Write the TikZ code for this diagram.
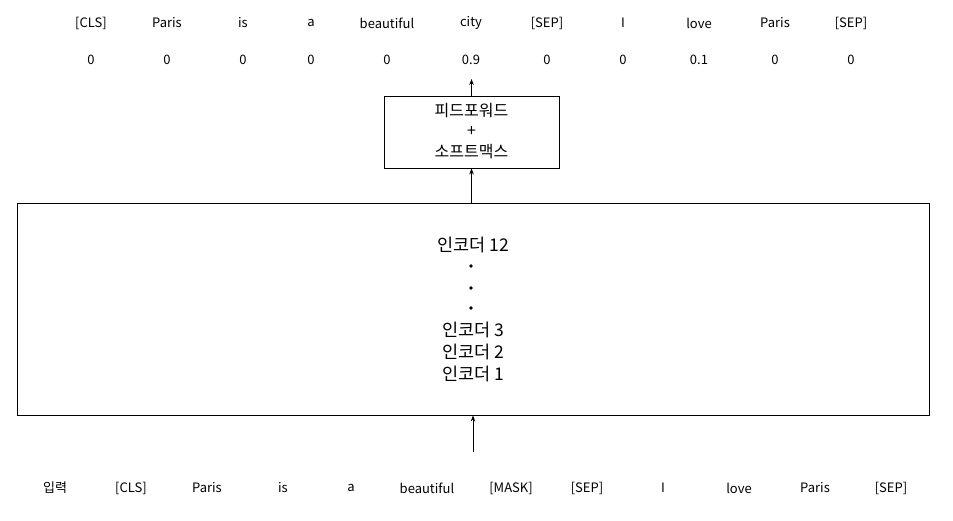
\documentclass[tikz,border=0pt]{standalone}
\usepackage{fontspec}
\setmainfont{Noto Sans CJK KR}
\usetikzlibrary{arrows.meta}
\begin{document}
\begin{tikzpicture}[x=1pt,y=-1pt,
  lbl/.style={inner sep=0pt,anchor=center,font=\fontsize{13}{15}\selectfont},
  enc/.style={inner sep=0pt,anchor=center,font=\fontsize{17.5}{20}\selectfont},
  ff/.style={inner sep=0pt,anchor=center,font=\fontsize{16}{18}\selectfont},
  dotn/.style={circle,fill=black,inner sep=0pt,minimum size=3.6pt},
  boxn/.style={draw=black,line width=0.9pt,inner sep=0pt},
  arr/.style={line width=0.8pt,-{Stealth[length=6pt,width=4.5pt]}}]
\useasboundingbox (0,0) rectangle (953,521);
% top tokens
\foreach \n/\x/\t in {t1/91/[CLS],t2/167/Paris,t3/243/is,t4/311/a,t5/387/beautiful,t6/471/city,t7/547/[SEP],t8/623/I,t9/699/love,t10/775/Paris,t11/851/[SEP]}
  \node[lbl] (\n) at (\x,23) {\t};
\foreach \n/\x/\t in {p1/91/0,p2/167/0,p3/243/0,p4/311/0,p5/387/0,p6/471/0.9,p7/547/0,p8/623/0,p9/699/0.1,p10/775/0,p11/851/0}
  \node[lbl] (\n) at (\x,60) {\t};
% feedforward box
\node[boxn,minimum width=175pt,minimum height=72pt] (ffbox) at (471.5,132) {};
\node[ff] (ff1) at (471.5,111) {피드포워드};
\node[ff] (ff2) at (471.5,132) {+};
\node[ff] (ff3) at (471.5,152) {소프트맥스};
% encoder box
\node[boxn,minimum width=912pt,minimum height=212pt] (encbox) at (473,309) {};
\node[enc] (e12) at (473,245) {인코더 12};
\node[dotn] (d1) at (471,266) {};
\node[dotn] (d2) at (471,288) {};
\node[dotn] (d3) at (471,308) {};
\node[enc] (e3) at (473,330) {인코더 3};
\node[enc] (e2) at (473,352) {인코더 2};
\node[enc] (e1) at (473,374) {인코더 1};
% bottom tokens
\foreach \n/\x/\t in {b0/55/입력,b1/131/[CLS],b2/207/Paris,b3/283/is,b4/351/a,b5/427/beautiful,b6/511/[MASK],b7/587/[SEP],b8/663/I,b9/739/love,b10/815/Paris,b11/891/[SEP]}
  \node[lbl] (\n) at (\x,488) {\t};
% arrows
\coordinate (inp) at (473,452);
\coordinate (outtip) at (471.5,79);
\draw[arr] (inp) -- (inp |- encbox.south);
\draw[arr] (encbox.north -| ffbox.south) -- (ffbox.south);
\draw[arr] (ffbox.north) -- (outtip);
\end{tikzpicture}
\end{document}
